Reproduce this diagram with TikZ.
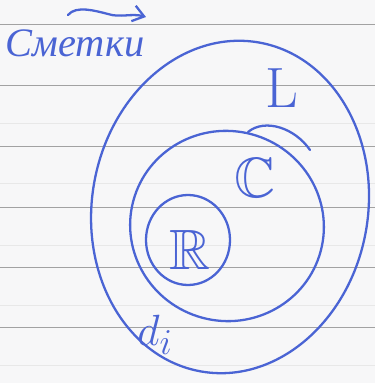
\documentclass[tikz,border=0pt]{standalone}
\usepackage{amssymb}
\usepackage{fontspec}
\newfontfamily\cyrfont{Liberation Serif}
\usetikzlibrary{arrows.meta}
\definecolor{InkBlue}{HTML}{4A64D4}
\definecolor{RuleGray}{HTML}{A2A2A2}
\definecolor{PaperWhite}{HTML}{F7F7F8}

\begin{document}
\begin{tikzpicture}[x=0.02cm, y=0.02cm,
    ink/.style={draw=InkBlue, line width=1.3pt, line cap=round},
    rule/.style={draw=RuleGray, line width=0.45pt},
    ghost/.style={draw=RuleGray!25, line width=0.45pt},
    setlabel/.style={text=InkBlue, inner sep=0pt, font=\Huge, scale=1.3},
    tip/.style={-{Straight Barb[length=2.2mm, width=3.2mm]}, ink}
  ]
    % paper and ruling
    \fill[PaperWhite] (0,0) rectangle (375,383);
    \useasboundingbox (0,0) rectangle (375,383);
    \foreach \yy in {359,298,237,176,116,56} \draw[rule] (0,\yy) -- (375,\yy);
    \foreach \yy in {260,200,138,78,18} \draw[ghost] (0,\yy) -- (375,\yy);

    % header
    \node[text=InkBlue, font=\cyrfont\itshape\fontsize{23}{27}\selectfont, inner sep=0pt] (title) at (75,340) {Сметки};
    \coordinate (arrstart) at (68,368);
    \coordinate (arrend) at (146,366);
    \draw[tip] (arrstart) .. controls (76,378) and (96,372) .. (108,369) .. controls (120,365) and (132,370) .. (arrend);

    % nested sets
    \coordinate (Lc) at (230,176);
    \coordinate (Cc) at (227,157);
    \coordinate (Rc) at (188,143);
    \draw[ink, rotate around={-10:(Lc)}] (Lc) ellipse [x radius=138, y radius=167];
    \draw[ink, rotate around={-15:(Cc)}] (Cc) ellipse [x radius=97, y radius=95];
    \draw[ink] (248,251) .. controls (265,265) and (295,255) .. (310,233);
    \draw[ink] (Rc) ellipse [x radius=42, y radius=45];

    \node[setlabel] (lset) at (282,295) {L};
    \node[setlabel] (cset) at (255,205) {$\mathbb{C}$};
    \node[setlabel] (rset) at (190,133) {$\mathbb{R}$};
    \node[text=InkBlue, inner sep=0pt, font=\Huge] (dset) at (155,48) {$d_i$};
  \end{tikzpicture}
\end{document}
